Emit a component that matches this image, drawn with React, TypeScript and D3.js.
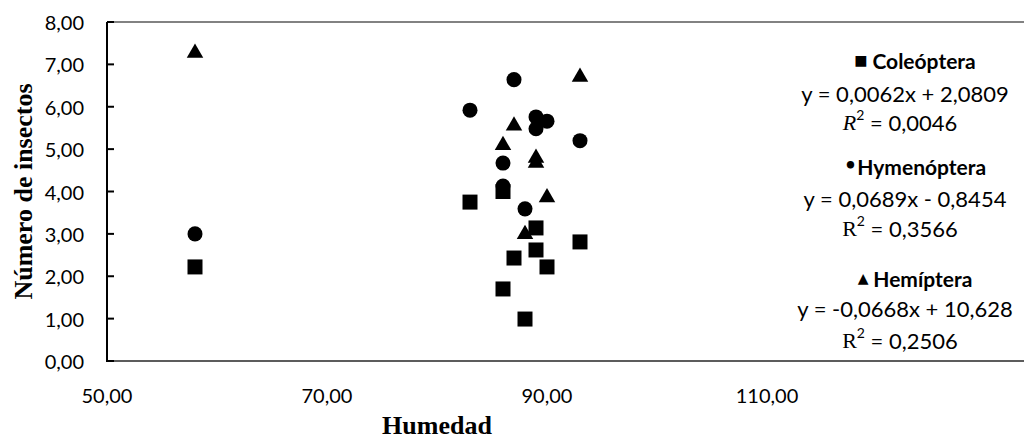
import React from "react";
import * as d3 from "d3";

// ---- data (Humedad vs Número de insectos) ----
const coleopteraX = [58, 83, 86, 89, 89, 87, 90, 93, 86, 88];
const coleopteraY = [2.22, 3.75, 4.0, 3.14, 2.62, 2.43, 2.22, 2.81, 1.7, 0.99];

const hymenopteraX = [58, 87, 83, 89, 90, 89, 93, 86, 86, 88];
const hymenopteraY = [3.0, 6.64, 5.92, 5.76, 5.66, 5.48, 5.2, 4.67, 4.13, 3.59];

const hemipteraX = [58, 93, 87, 86, 89, 89, 90, 88];
const hemipteraY = [7.27, 6.7, 5.55, 5.09, 4.79, 4.67, 3.86, 2.99];

const xTicks = [50, 70, 90, 110];
const yTicks = [0, 1, 2, 3, 4, 5, 6, 7, 8];

const legendNames = ["Coleóptera", "Hymenóptera", "Hemíptera"];
const legendEquations = [
  "y = 0,0062x + 2,0809",
  "y = 0,0689x - 0,8454",
  "y = -0,0668x + 10,628",
];
const legendR2 = ["0,0046", "0,3566", "0,2506"];

const W = 1024;
const H = 441;

const fmt = d3
  .formatLocale({ decimal: ",", thousands: ".", grouping: [3], currency: ["", ""] })
  .format(".2f");

export default function App() {
  const x = d3.scaleLinear().domain([50, 150]).range([107, 1207]);
  const y = d3.scaleLinear().domain([0, 8]).range([361, 22]);

  const sq = d3.symbol().type(d3.symbolSquare).size(225)()!;
  const ci = d3.symbol().type(d3.symbolCircle).size(177)()!;
  const tr = d3.symbol().type(d3.symbolTriangle).size(118)()!;

  const tickFont = "Lato, 'Open Sans', sans-serif";
  const serif = "'Liberation Serif', 'Times New Roman', serif";

  const series = [
    { xs: coleopteraX, ys: coleopteraY, path: sq },
    { xs: hymenopteraX, ys: hymenopteraY, path: ci },
    { xs: hemipteraX, ys: hemipteraY, path: tr },
  ];

  const legendMarks = ["■ ", "•", "▲ "];
  const nameY = [60, 166, 278];
  const eqY = [93, 198, 308];
  const r2Y = [122, 228, 340];

  return (
    <svg
      width={W}
      height={H}
      style={{ position: "absolute", left: 0, top: 0, background: "#fff" }}
    >
      <rect x={0} y={0} width={W} height={H} fill="#fff" />
      {/* plot frame */}
      <line x1={107} x2={W} y1={y(8)} y2={y(8)} stroke="#595959" strokeWidth={1.5} />
      <line x1={107} x2={W} y1={y(0)} y2={y(0)} stroke="#262626" strokeWidth={1.5} />
      <line x1={107} x2={107} y1={y(8)} y2={y(0) + 1} stroke="#000" strokeWidth={2} />
      {yTicks.map((t) => (
        <g key={t}>
          <line x1={107} x2={114} y1={y(t)} y2={y(t)} stroke="#000" strokeWidth={2} />
          <text
            x={84}
            y={y(t)}
            textAnchor="end"
            dominantBaseline="central"
            fontFamily={tickFont}
            fontSize={20}
            fill="#000"
          >
            {fmt(t)}
          </text>
        </g>
      ))}
      {xTicks.map((t) => (
        <text
          key={t}
          x={x(t)}
          y={395}
          textAnchor="middle"
          dominantBaseline="central"
          fontFamily={tickFont}
          fontSize={20}
          fill="#000"
        >
          {fmt(t)}
        </text>
      ))}
      {/* axis titles */}
      <text
        x={x(80)}
        y={425}
        textAnchor="middle"
        dominantBaseline="central"
        fontFamily={serif}
        fontWeight="bold"
        fontSize={26}
      >
        Humedad
      </text>
      <text
        transform={`translate(23,${(y(0) + y(8)) / 2}) rotate(-90)`}
        textAnchor="middle"
        dominantBaseline="central"
        fontFamily={serif}
        fontWeight="bold"
        fontSize={26}
      >
        Número de insectos
      </text>
      {/* points */}
      {series.map((s, si) =>
        s.xs.map((xv, i) => (
          <path
            key={`${si}-${i}`}
            d={s.path}
            transform={`translate(${x(xv)},${y(s.ys[i])})`}
            fill="#000"
          />
        ))
      )}
      {/* legend / equations */}
      {legendNames.map((n, i) => (
        <g key={n}>
          <text
            x={915}
            y={nameY[i]}
            textAnchor="middle"
            dominantBaseline="central"
            fontFamily={tickFont}
            fontWeight="bold"
            fontSize={21}
          >
            <tspan fontSize={i === 1 ? 21 : 14} fontFamily="'DejaVu Sans', sans-serif">
              {legendMarks[i]}
            </tspan>
            {n}
          </text>
          <text
            x={905}
            y={eqY[i]}
            textAnchor="middle"
            dominantBaseline="central"
            fontFamily={tickFont}
            fontSize={22}
          >
            {legendEquations[i]}
          </text>
          <text
            x={900}
            y={r2Y[i]}
            textAnchor="middle"
            dominantBaseline="central"
            fontFamily={tickFont}
            fontSize={22}
          >
            <tspan fontFamily={serif} fontStyle={i === 0 ? "italic" : "normal"}>
              R
            </tspan>
            <tspan fontSize={14} dy={-8}>
              2
            </tspan>
            <tspan dy={8}>{` = ${legendR2[i]}`}</tspan>
          </text>
        </g>
      ))}
    </svg>
  );
}
